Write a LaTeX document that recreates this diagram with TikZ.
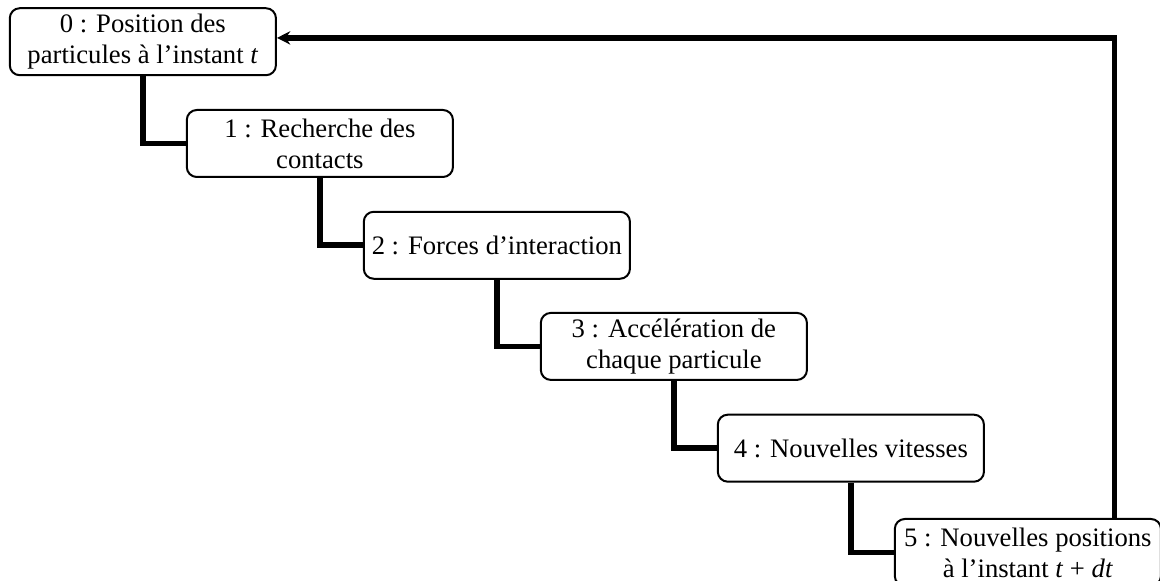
\documentclass[tikz,border=0pt]{standalone}
\usepackage{fontspec}
\setmainfont{Liberation Serif}
\usetikzlibrary{arrows.meta}

\tikzset{
  etape/.style={draw,rounded corners=4.5pt,line width=0.9pt,
    minimum width=4.21cm,minimum height=1.06cm,align=center,inner sep=1pt,
    font=\fontsize{12}{14}\selectfont},
  lien/.style={line width=2.6pt},
}

\begin{document}
\begin{tikzpicture}[x=1cm,y=1cm]
\useasboundingbox (0,0) rectangle (18.35,-9.19);

\node[etape] (e0) at (2.26,-0.66) {0 : Position des\\particules à l’instant \textit{t}};
\node[etape] (e1) at (5.06,-2.27) {1 : Recherche des\\contacts};
\node[etape] (e2) at (7.86,-3.88) {2 : Forces d’interaction};
\node[etape] (e3) at (10.66,-5.48) {3 : Accélération de\\chaque particule};
\node[etape] (e4) at (13.46,-7.09) {4 : Nouvelles vitesses};
\node[etape] (e5) at (16.26,-8.74) {5 : Nouvelles positions\\à l’instant \textit{t} + \textit{dt}};

\draw[lien] (e0.south) |- (e1.west);
\draw[lien] (e1.south) |- (e2.west);
\draw[lien] (e2.south) |- (e3.west);
\draw[lien] (e3.south) |- (e4.west);
\draw[lien] (e4.south) |- (e5.west);

% retour au pas de temps suivant
\coordinate (retour) at (17.63,-0.60);
\draw[lien,-{Stealth[length=6pt,width=6pt,inset=2pt]}]
  (e5.north -| retour) -- (retour) -- (retour -| e0.east);
\end{tikzpicture}
\end{document}
